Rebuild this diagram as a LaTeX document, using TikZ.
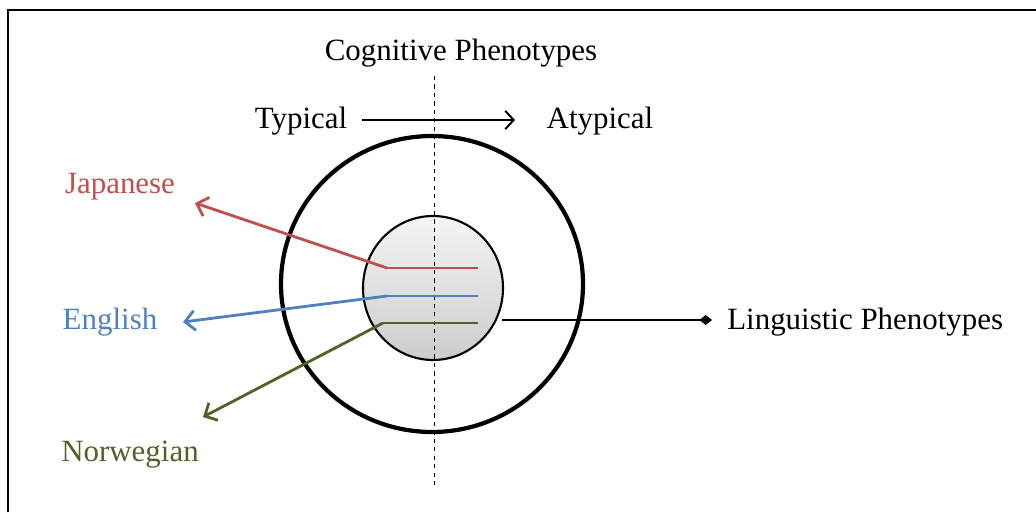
\documentclass[tikz,border=0pt]{standalone}
\usepackage{fontspec}
\setmainfont{Liberation Serif}
\usetikzlibrary{arrows.meta}
\definecolor{japred}{HTML}{C0504D}
\definecolor{engblue}{HTML}{4F81BD}
\definecolor{norgreen}{HTML}{4F6228}
\tikzset{
  lbl/.style={font=\fontsize{22}{25}\selectfont, inner sep=0pt},
  langline/.style={line width=2pt},
  langarrow/.style={line width=2pt, -{Straight Barb[length=7pt,width=14pt,line width=2pt]}}
}
\begin{document}
\begin{tikzpicture}[x=0.025cm,y=-0.025cm]
    \useasboundingbox (0,0) rectangle (1036,512);
    \draw[line width=1.4pt] (8,512) -- (8,10) -- (1036,10);

    \node[lbl] (title) at (461,53) {Cognitive Phenotypes};
    \node[lbl] (typ) at (301,121) {Typical};
    \node[lbl] (atyp) at (600,121) {Atypical};
    \draw[line width=1.4pt,-{Straight Barb[length=6pt,width=13pt,line width=1.4pt]}] (362,120) -- (515,120);

    % circles
    \draw[line width=3pt] (432,284) ellipse [x radius=151, y radius=148];
    \shade[top color=gray!8, bottom color=gray!40, draw=black, line width=1.5pt]
      (433,288) ellipse [x radius=70, y radius=72];
    \draw[dashed, line width=0.7pt] (434,76) -- (434,487);

    % languages
    \node[lbl, text=japred] (jap) at (120,187) {Japanese};
    \node[lbl, text=engblue] (eng) at (110,322) {English};
    \node[lbl, text=norgreen] (nor) at (130,455) {Norwegian};

    \foreach \n\y\x\c in {j/268/387/japred, e/296/387/engblue, n/323/383/norgreen}{
      \coordinate (\n a) at (\x,\y);
      \coordinate (\n b) at (478,\y);
      \draw[langline, \c] (\n a) -- (\n b);
    }
    \coordinate (jtip) at (195,203);
    \coordinate (etip) at (183,322);
    \coordinate (ntip) at (203,417);
    \draw[langarrow, japred] (ja) -- (jtip);
    \draw[langarrow, engblue] (ea) -- (etip);
    \draw[langarrow, norgreen] (na) -- (ntip);

    % linguistic
    \node[lbl, anchor=west] (ling) at (727,322) {Linguistic Phenotypes};
    \coordinate (lstart) at (502,320);
    \draw[line width=1.4pt, -{Diamond[length=9pt,width=7pt]}] (lstart) -- (712,320);
  \end{tikzpicture}
\end{document}
